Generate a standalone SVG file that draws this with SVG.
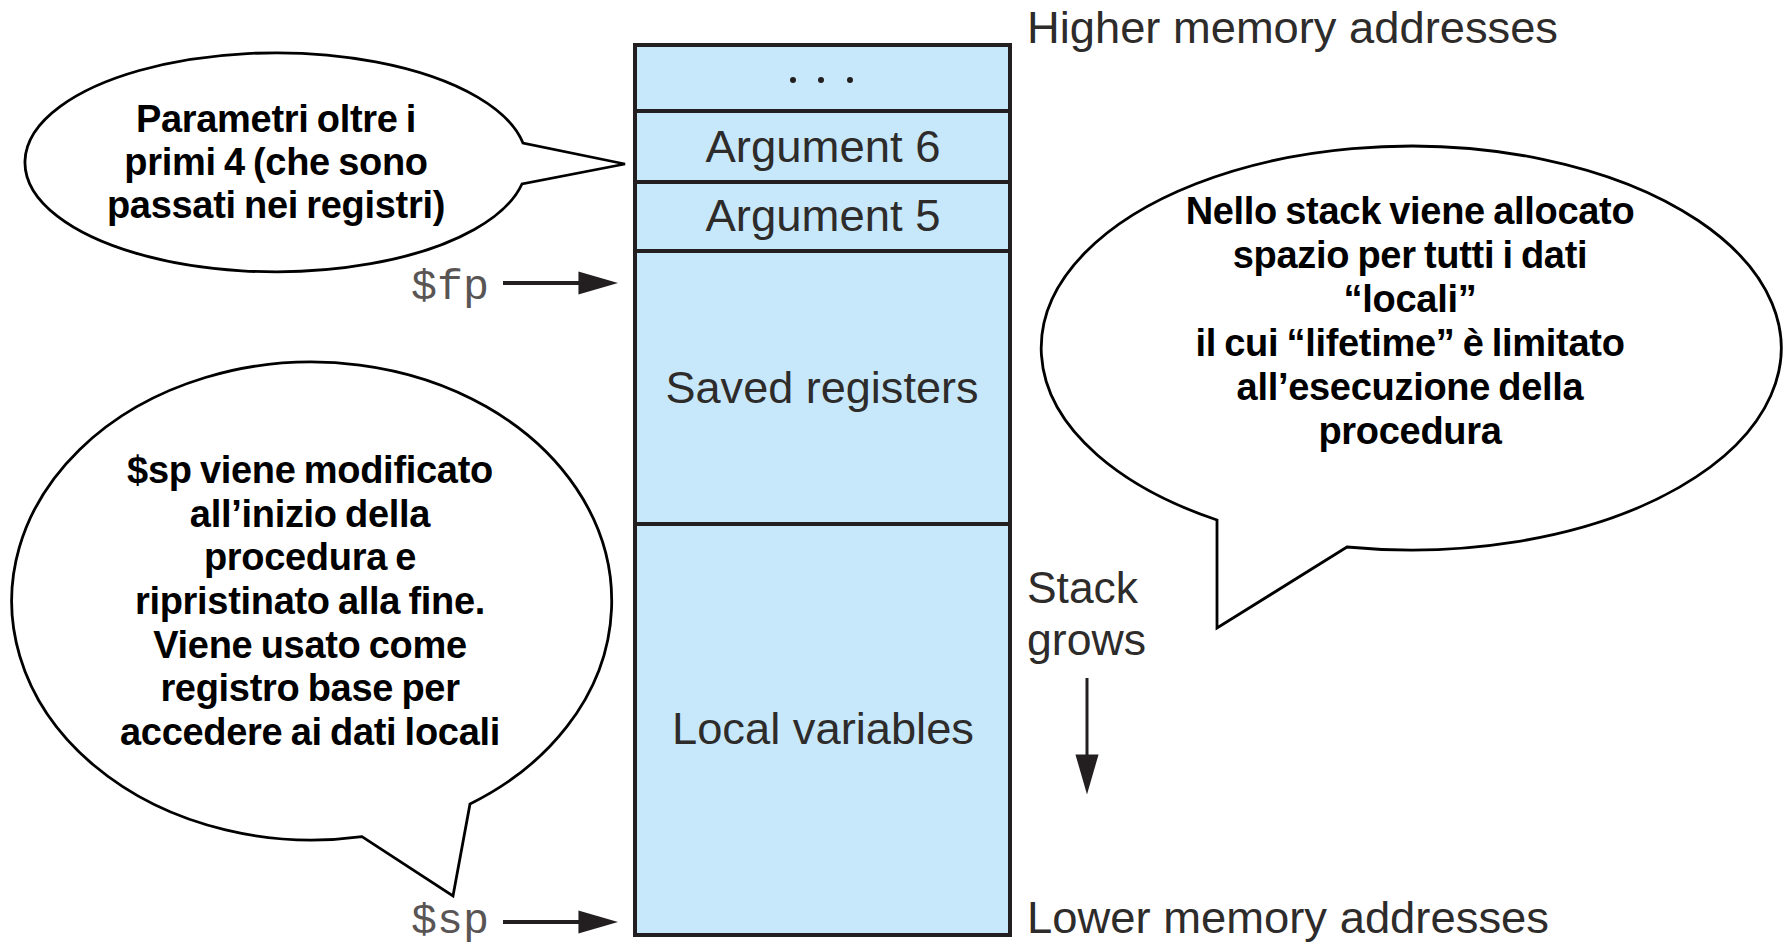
<svg xmlns="http://www.w3.org/2000/svg" width="1783" height="947" viewBox="0 0 1783 947">
<style>
.cell{fill:#C7E8FA;stroke:#231F20;stroke-width:4}
.div{stroke:#231F20;stroke-width:4}
.lbl{font-family:"Liberation Sans",Arial,sans-serif;font-size:44px;fill:#2E2B2B}
.mid{text-anchor:middle}
.reg{font-family:"Liberation Mono","DejaVu Sans Mono",monospace;font-size:42px;fill:#5A5555}
.bub{fill:#FFFFFF;stroke:#000000;stroke-width:2.8;stroke-linejoin:miter}
.bt{font-family:"Liberation Sans",Arial,sans-serif;font-size:38px;font-weight:bold;fill:#000000;text-anchor:middle;letter-spacing:-0.3px;word-spacing:-2px}
.arr{stroke:#231F20;fill:none}
</style>
<defs>
<marker id="ah" markerUnits="userSpaceOnUse" markerWidth="40" markerHeight="24" viewBox="0 0 38 22" refX="11" refY="11" orient="auto">
<path d="M0,0 L38,11 L0,22 Z" fill="#231F20"/>
</marker>
</defs>
<rect width="1783" height="947" fill="#FFFFFF"/>

<g id="stack">
<rect class="cell" x="635" y="45" width="375" height="890"/>
<line class="div" x1="635" y1="111" x2="1010" y2="111"/>
<line class="div" x1="635" y1="182" x2="1010" y2="182"/>
<line class="div" x1="635" y1="251" x2="1010" y2="251"/>
<line class="div" x1="635" y1="524" x2="1010" y2="524"/>
<g fill="#231F20"><circle cx="793" cy="80" r="3"/><circle cx="821" cy="80" r="3"/><circle cx="850" cy="80" r="3"/></g>
<text class="lbl mid" x="823" y="162" textLength="235" lengthAdjust="spacingAndGlyphs">Argument 6</text>
<text class="lbl mid" x="823" y="231" textLength="235" lengthAdjust="spacingAndGlyphs">Argument 5</text>
<text class="lbl mid" x="822" y="403" textLength="313" lengthAdjust="spacingAndGlyphs">Saved registers</text>
<text class="lbl mid" x="823" y="744" textLength="302" lengthAdjust="spacingAndGlyphs">Local variables</text>
</g>

<g id="labels">
<text class="lbl" x="1027" y="43" textLength="531" lengthAdjust="spacingAndGlyphs">Higher memory addresses</text>
<text class="lbl" x="1027" y="933" textLength="522" lengthAdjust="spacingAndGlyphs">Lower memory addresses</text>
<text class="lbl" x="1027" y="603" textLength="111" lengthAdjust="spacingAndGlyphs">Stack</text>
<text class="lbl" x="1027" y="655" textLength="119" lengthAdjust="spacingAndGlyphs">grows</text>
<text class="reg" x="411" y="299" textLength="78" lengthAdjust="spacingAndGlyphs">$fp</text>
<text class="reg" x="411" y="933" textLength="78" lengthAdjust="spacingAndGlyphs">$sp</text>
</g>

<g id="connectors">
<line class="arr" x1="503" y1="283" x2="590" y2="283" stroke-width="4" marker-end="url(#ah)"/>
<line class="arr" x1="503" y1="922" x2="590" y2="922" stroke-width="4" marker-end="url(#ah)"/>
<line class="arr" x1="1087" y1="678" x2="1087" y2="766" stroke-width="3" marker-end="url(#ah)"/>
</g>

<g id="callout-params">
<path class="bub" d="M523,143 A251,109.5 0 1 0 522,184 L625,164 Z"/>
<text class="bt" x="276" y="132">Parametri oltre i</text>
<text class="bt" x="276" y="175">primi 4 (che sono</text>
<text class="bt" x="276" y="218">passati nei registri)</text>
</g>

<g id="callout-sp">
<path class="bub" d="M362,836.6 A300,239 0 1 1 470,804 L453,896 Z"/>
<text class="bt" x="310" y="483">$sp viene modificato</text>
<text class="bt" x="310" y="527">all’inizio della</text>
<text class="bt" x="310" y="570">procedura e</text>
<text class="bt" x="310" y="614">ripristinato alla fine.</text>
<text class="bt" x="310" y="658">Viene usato come</text>
<text class="bt" x="310" y="701">registro base per</text>
<text class="bt" x="310" y="745">accedere ai dati locali</text>
</g>

<g id="callout-local">
<path class="bub" d="M1217,520 A370,202 0 1 1 1347,547 L1217,628 Z"/>
<text class="bt" x="1410" y="224">Nello stack viene allocato</text>
<text class="bt" x="1410" y="268">spazio per tutti i dati</text>
<text class="bt" x="1410" y="312">“locali”</text>
<text class="bt" x="1410" y="356">il cui “lifetime” è limitato</text>
<text class="bt" x="1410" y="400">all’esecuzione della</text>
<text class="bt" x="1410" y="444">procedura</text>
</g>
</svg>
